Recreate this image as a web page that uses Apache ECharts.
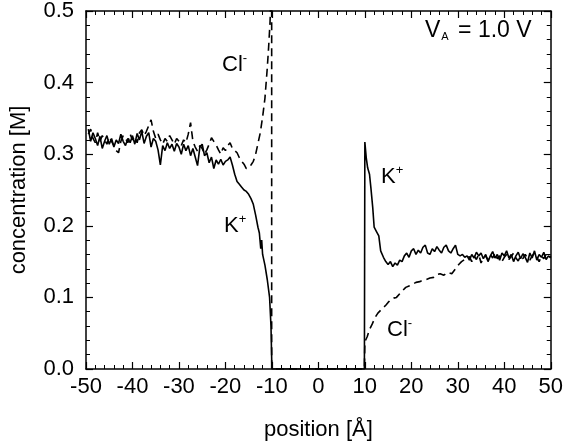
<!DOCTYPE html>
<html>
<head>
<meta charset="utf-8">
<script src="https://cdn.jsdelivr.net/npm/echarts@6/dist/echarts.min.js"></script>
<style>
  html, body { margin: 0; padding: 0; background: #fff; }
  #chart { width: 566px; height: 446px; }
</style>
</head>
<body>
<div id="chart"></div>
<script>
// K+ profile (solid): position [Å], concentration [M]
const kPos = [
  -49.5, -49, -48.5, -48, -47.5, -47, -46.5, -46, -45.5, -45, -44.5, -44, -43.5, -43, -42.5, -42,
  -41.5, -41, -40.5, -40, -39.5, -39, -38.5, -38, -37.5, -37, -36.5, -36, -35.5, -35, -34.5, -34,
  -33.5, -33, -32.5, -32, -31.5, -31, -30.5, -30, -29.5, -29, -28.5, -28, -27.5, -27, -26.5, -26,
  -25.5, -25, -24.5, -24, -23.5, -23, -22.5, -22, -21.5, -21, -20.5, -20, -19.5, -19,
  -18.5, -18, -17.5, -17, -16.5, -16, -15.5, -15, -14.5, -14, -13.5, -13, -12.7, -12.4, -12.2, -12,
  -11.5, -11, -10.5, -10.2, -10.0,
  9.9, 10.0, 10.3, 10.6, 11, 11.3, 11.7, 12, 12.5, 13, 13.4, 14, 14.5, 15, 15.5, 16, 16.5, 17, 17.5,
  18, 18.5, 19, 19.5, 20, 20.5, 21, 21.5, 22, 22.5, 23, 23.5, 24, 24.5, 25, 25.5, 26, 26.5, 27, 27.5,
  28, 28.5, 29, 29.5, 30, 30.5, 31, 31.5, 32, 32.5, 33, 33.5, 34, 34.5, 35, 35.5, 36, 36.5, 37, 37.5,
  38, 38.5, 39, 39.5, 40, 40.5, 41, 41.5, 42, 42.5, 43, 43.5, 44, 44.5, 45, 45.5, 46, 46.5, 47, 47.5,
  48, 48.5, 49, 49.5, 50
];
const kConc = [
  0.335, 0.318, 0.330, 0.322, 0.312, 0.325, 0.308, 0.318, 0.326, 0.314, 0.322, 0.310, 0.320, 0.315, 0.328, 0.318,
  0.312, 0.322, 0.316, 0.326, 0.314, 0.329, 0.320, 0.332, 0.315, 0.325, 0.330, 0.310, 0.322, 0.318, 0.306, 0.285,
  0.312, 0.305, 0.316, 0.308, 0.314, 0.304, 0.315, 0.310, 0.300, 0.314, 0.305, 0.312, 0.298, 0.308, 0.296, 0.284,
  0.310, 0.314, 0.298, 0.302, 0.288, 0.296, 0.280, 0.292, 0.286, 0.293, 0.285, 0.290, 0.292, 0.296,
  0.285, 0.272, 0.262, 0.258, 0.254, 0.250, 0.248, 0.244, 0.238, 0.230, 0.215, 0.198, 0.190, 0.168, 0.180, 0.160,
  0.145, 0.125, 0.100, 0.060, 0.0,
  0.0, 0.317, 0.295, 0.281, 0.272, 0.253, 0.225, 0.198, 0.192, 0.186, 0.165, 0.156, 0.150, 0.146, 0.150, 0.143, 0.148, 0.145, 0.152,
  0.150, 0.158, 0.162, 0.156, 0.165, 0.168, 0.160, 0.166, 0.162, 0.170, 0.173, 0.162, 0.160, 0.168, 0.164, 0.171, 0.166, 0.162, 0.170, 0.173,
  0.165, 0.162, 0.168, 0.173, 0.160, 0.158, 0.160, 0.156, 0.158, 0.152, 0.160, 0.155, 0.163, 0.158, 0.162, 0.154, 0.160, 0.150, 0.158, 0.164,
  0.155, 0.160, 0.152, 0.162, 0.158, 0.165, 0.155, 0.160, 0.150, 0.158, 0.163, 0.154, 0.161, 0.156, 0.149, 0.162, 0.155, 0.165, 0.152, 0.160,
  0.156, 0.163, 0.153, 0.158, 0.155
];

// Cl- profile (dashed)
const clPos = [
  -49.5, -49, -48.5, -48, -47.5, -47, -46.5, -46, -45.5, -45, -44.5, -44, -43.5, -43, -42.5, -42,
  -41.5, -41, -40.5, -40, -39.5, -39, -38.5, -38, -37.5, -37, -36.5, -36, -35.5, -35, -34.5, -34,
  -33.5, -33, -32.5, -32, -31.5, -31, -30.5, -30, -29.5, -29, -28.5, -28, -27.5, -27, -26.5, -26,
  -25.5, -25, -24.5, -24, -23.5, -23, -22.5, -22, -21.5, -21, -20.5, -20, -19.5, -19, -18.5, -18,
  -17.5, -17, -16.5, -16, -15.5, -15, -14.5, -14, -13.5, -13, -12.5, -12, -11.5, -11, -10.7, -10.4,
  -10.2, -10.05, -10.05,
  9.9, 10.0, 10.5, 11, 11.6, 12.2, 12.8, 13.4, 14, 14.5, 15, 15.6, 16.2, 16.8, 17.5, 18.2, 18.8, 19.5,
  20.2, 21, 21.8, 22.5, 23.2, 24, 24.8, 25.5, 26.2, 27, 27.8, 28.7, 29.5, 30.2, 30.8, 31.5, 32,
  32.5, 33, 33.5, 34, 34.5, 35, 35.5, 36, 36.5, 37, 37.5, 38, 38.5, 39, 39.5, 40, 40.5, 41, 41.5,
  42, 42.5, 43, 43.5, 44, 44.5, 45, 45.5, 46, 46.5, 47, 47.5, 48, 48.5, 49, 49.5, 50
];
const clConc = [
  0.328, 0.335, 0.322, 0.316, 0.330, 0.318, 0.326, 0.320, 0.314, 0.324, 0.318, 0.312, 0.305, 0.302, 0.318, 0.326,
  0.322, 0.316, 0.328, 0.320, 0.325, 0.316, 0.330, 0.334, 0.326, 0.332, 0.340, 0.348, 0.332, 0.322, 0.328, 0.320,
  0.314, 0.322, 0.318, 0.326, 0.320, 0.314, 0.322, 0.318, 0.312, 0.320, 0.316, 0.328, 0.344, 0.318, 0.310, 0.304,
  0.312, 0.308, 0.300, 0.306, 0.314, 0.323, 0.318, 0.313, 0.306, 0.300, 0.309, 0.305, 0.312, 0.316, 0.308, 0.305,
  0.302, 0.295, 0.290, 0.286, 0.280, 0.281, 0.285, 0.290, 0.300, 0.315, 0.330, 0.352, 0.378, 0.420, 0.450, 0.485,
  0.520, 0.900, 0.0,
  0.0, 0.038, 0.045, 0.055, 0.063, 0.072, 0.078, 0.082, 0.086, 0.089, 0.093, 0.097, 0.099, 0.100, 0.105, 0.110, 0.114, 0.116,
  0.118, 0.121, 0.122, 0.124, 0.125, 0.127, 0.128, 0.132, 0.133, 0.131, 0.135, 0.133, 0.140, 0.146, 0.150, 0.153, 0.155,
  0.157, 0.150, 0.158, 0.153, 0.160, 0.148, 0.155, 0.158, 0.152, 0.160, 0.155, 0.162, 0.154, 0.158, 0.150, 0.156, 0.160, 0.153, 0.157,
  0.162, 0.155, 0.151, 0.158, 0.154, 0.160, 0.155, 0.152, 0.158, 0.162, 0.156, 0.150, 0.158, 0.154, 0.160, 0.155, 0.158
];

const font = 'Liberation Sans, Arial, sans-serif';
const zip = (xs, ys) => xs.map((x, i) => [x, ys[i]]);

const chart = echarts.init(document.getElementById('chart'));

// shared frame axis look (ticks inside on all four sides)
const frame = {
  axisLine: { show: true, onZero: false, lineStyle: { color: '#000', width: 1.5 } },
  axisTick: { show: true, inside: true, length: 7, lineStyle: { color: '#000', width: 1.2 } },
  minorTick: { show: true, splitNumber: 5, length: 4, lineStyle: { color: '#000', width: 1 } },
  splitLine: { show: false }
};

const supStyle = { fontSize: 13, padding: [0, 0, 13, 0] };

const option = {
  animation: false,
  backgroundColor: '#fff',
  grid: { left: 86, right: 11, top: 9, bottom: 77 },
  xAxis: [
    Object.assign({
      type: 'value', min: -50, max: 50, interval: 10, position: 'bottom',
      name: 'position [Å]', nameLocation: 'middle', nameGap: 50,
      nameTextStyle: { fontFamily: font, fontSize: 22, color: '#000' },
      axisLabel: { fontFamily: font, fontSize: 22, color: '#000', margin: 7 }
    }, frame),
    Object.assign({
      type: 'value', min: -50, max: 50, interval: 10, position: 'top',
      axisLabel: { show: false }
    }, frame)
  ],
  yAxis: [
    Object.assign({
      type: 'value', min: 0, max: 0.5, interval: 0.1, position: 'left',
      name: 'concentration [M]', nameLocation: 'middle', nameGap: 56,
      nameTextStyle: { fontFamily: font, fontSize: 22, color: '#000' },
      axisLabel: { fontFamily: font, fontSize: 22, color: '#000', margin: 12,
        padding: [6, 0, 0, 0], formatter: v => v.toFixed(1) }
    }, frame),
    Object.assign({
      type: 'value', min: 0, max: 0.5, interval: 0.1, position: 'right',
      axisLabel: { show: false }
    }, frame)
  ],
  series: [
    {
      name: 'K+', type: 'line', xAxisIndex: 0, yAxisIndex: 0,
      data: zip(kPos, kConc), showSymbol: false, clip: true,
      lineStyle: { color: '#000', width: 1.6 }
    },
    {
      name: 'Cl-', type: 'line', xAxisIndex: 0, yAxisIndex: 0,
      data: zip(clPos, clConc), showSymbol: false, clip: true,
      lineStyle: { color: '#000', width: 1.6, type: [8, 5] }
    }
  ],
  graphic: [
    { type: 'text', left: 222, top: 52, style: { text: 'Cl{s|-}', font: '22px ' + font, fill: '#000', rich: { s: supStyle } } },
    { type: 'text', left: 224, top: 213, style: { text: 'K{s|+}', font: '22px ' + font, fill: '#000', rich: { s: supStyle } } },
    { type: 'text', left: 381, top: 164, style: { text: 'K{s|+}', font: '22px ' + font, fill: '#000', rich: { s: supStyle } } },
    { type: 'text', left: 387, top: 317, style: { text: 'Cl{s|-}', font: '22px ' + font, fill: '#000', rich: { s: supStyle } } },
    { type: 'text', left: 425, top: 19, style: { text: 'V{s|A} = 1.0 V', font: '23px ' + font, fill: '#000',
      rich: { s: { fontSize: 11, padding: [12, 3, 0, 1] } } } }
  ]
};

chart.setOption(option);
</script>
</body>
</html>
